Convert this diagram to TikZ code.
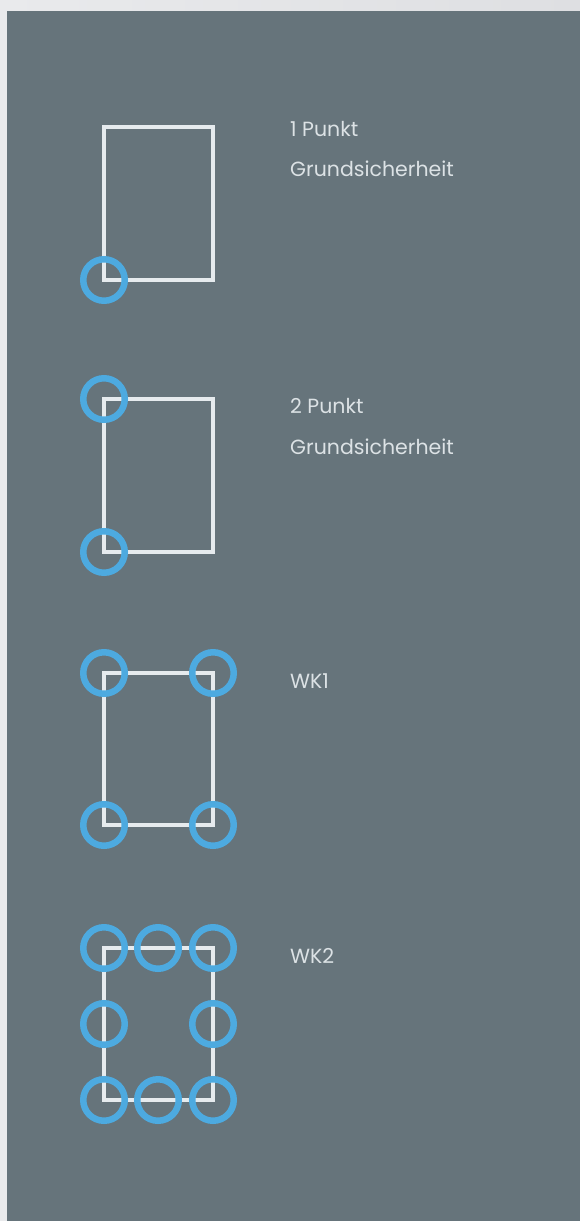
\documentclass[tikz,border=0pt]{standalone}
\usepackage{fontspec}
\setmainfont{Poppins}
\definecolor{outerbg}{HTML}{DEDFE2}
\definecolor{outerbgl}{HTML}{E9EAEC}
\definecolor{panel}{HTML}{66747B}
\definecolor{ringblue}{HTML}{4DAAE0}
\definecolor{linewhite}{HTML}{E6EBEE}
\definecolor{textgray}{HTML}{DCE2E5}
\tikzset{
  frame/.style={draw=linewhite, line width=3.2pt},
  ring/.style={circle, draw=ringblue, line width=6.5pt, minimum size=41.5pt, inner sep=0pt},
  lab/.style={anchor=base west, text=textgray, font=\fontsize{20.5}{20.5}\selectfont, inner sep=0pt},
}
\begin{document}
\begin{tikzpicture}[x=1pt,y=-1pt]
\useasboundingbox (0,0) rectangle (580,1221);
\shade[left color=outerbgl, right color=outerbg] (0,0) rectangle (580,1221);
\fill[panel] (7,11) rectangle (580,1221);
% Box 1
\draw[frame] (104,127) rectangle (213,280);
\node[ring] (a1) at (104,280) {};
\node[lab] (t1a) at (290,136) {1 Punkt};
\node[lab] (t1b) at (290,176) {Grundsicherheit};
% Box 2
\draw[frame] (104,399) rectangle (213,552);
\node[ring] (b1) at (104,399) {};
\node[ring] (b2) at (104,552) {};
\node[lab] (t2a) at (290,413) {2 Punkt};
\node[lab] (t2b) at (290,454) {Grundsicherheit};
% Box 3
\draw[frame] (104,673) rectangle (213,825);
\node[ring] (c1) at (104,673) {};
\node[ring] (c2) at (213,673) {};
\node[ring] (c3) at (104,825) {};
\node[ring] (c4) at (213,825) {};
\node[lab] (t3) at (290,688) {WK1};
% Box 4
\draw[frame] (104,948) rectangle (213,1100);
\foreach \x/\n in {104/l,158/m,213/r}{
  \node[ring] (d\n t) at (\x,948) {};
  \node[ring] (d\n b) at (\x,1100) {};
}
\node[ring] (dlm) at (104,1024) {};
\node[ring] (drm) at (213,1024) {};
\node[lab] (t4) at (290,963) {WK2};
\end{tikzpicture}
\end{document}
